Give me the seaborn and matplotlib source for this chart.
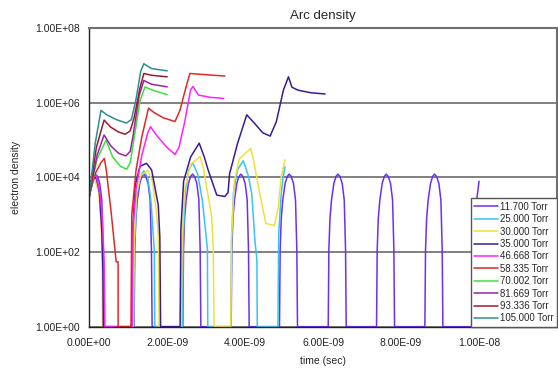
import numpy as np
import pandas as pd
import matplotlib
matplotlib.use("Agg")
import matplotlib.pyplot as plt
import matplotlib.ticker as mticker
import seaborn as sns

# =========================
# DATA  (time in ns, density given as log10 exponent)
# =========================
PRESSURES = ["11.700 Torr", "25.000 Torr", "30.000 Torr", "35.000 Torr", "46.668 Torr",
             "58.335 Torr", "70.002 Torr", "81.669 Torr", "93.336 Torr", "105.000 Torr"]
COLORS = ["#6b2ff5", "#38c4f4", "#f2e03a", "#3a1a98", "#ff20ff",
          "#e02828", "#3ee03e", "#9a22a8", "#a0182c", "#2a9090"]

# 11.7 Torr repeats the same arch, one per pulse
DOME_DT = [0, 0.017, 0.045, 0.085, 0.145, 0.20, 0.248, 0.30, 0.359, 0.411, 0.445, 0.462]
DOME_EXP = [0, 2.06, 2.9, 3.4, 3.84, 4.03, 4.09, 4.03, 3.84, 3.4, 2.06, 0]
STARTS_11700 = [-0.09, 1.15, 2.40, 3.64, 4.88, 6.13, 7.37, 8.61]
TAIL_T_11700 = [9.86, 9.88, 9.94, 10.0]
TAIL_E_11700 = [0, 2.1, 3.4, 3.9]

T_25000 = [0, 0.06, 0.16, 0.25, 0.31, 0.34, 0.35,
           1.14, 1.16, 1.22, 1.30, 1.40, 1.50, 1.58, 1.64, 1.67, 1.68,
           2.39, 2.41, 2.46, 2.55, 2.65, 2.78, 2.90, 2.97, 3.03, 3.04,
           3.63, 3.65, 3.70, 3.80, 3.95, 4.08, 4.17, 4.25, 4.30, 4.31,
           4.84, 4.86, 4.92, 4.97, 5.02]
E_25000 = [3.6, 3.95, 4.0, 3.7, 3.0, 2.0, 0,
           0, 2.2, 3.5, 4.0, 4.18, 4.0, 3.4, 2.5, 2.0, 0,
           0, 2.3, 3.6, 4.2, 4.4, 4.1, 3.4, 2.7, 2.1, 0,
           0, 2.3, 3.6, 4.2, 4.45, 4.05, 3.55, 2.3, 1.8, 0,
           0, 2.5, 3.5, 4.0, 4.28]

T_30000 = [0, 0.07, 0.15, 0.24, 0.30, 0.33, 0.34,
           1.13, 1.15, 1.21, 1.32, 1.50, 1.62, 1.72, 1.77, 1.79,
           2.36, 2.38, 2.45, 2.60, 2.84, 2.92, 3.01, 3.14, 3.18, 3.20,
           3.63, 3.65, 3.72, 3.85, 4.14, 4.20, 4.34, 4.53, 4.75, 4.85, 4.92, 5.02]
E_30000 = [3.55, 3.9, 3.95, 3.6, 2.8, 1.8, 0,
           0, 2.3, 3.6, 4.05, 4.2, 3.9, 3.1, 2.46, 0,
           0, 2.3, 3.7, 4.35, 4.56, 4.3, 3.75, 2.95, 2.14, 0,
           0, 2.4, 3.9, 4.5, 4.78, 4.55, 3.75, 2.77, 2.71, 3.2, 4.0, 4.47]

T_35000 = [0, 0.08, 0.18, 0.26, 0.32, 0.35, 0.36,
           1.09, 1.11, 1.18, 1.30, 1.47, 1.60, 1.77, 1.81, 1.83,
           2.33, 2.35, 2.42, 2.60, 2.82, 2.95, 3.05, 3.27, 3.48, 3.56, 3.60,
           3.80, 4.04, 4.20, 4.45, 4.64, 4.80, 4.98, 5.11, 5.20, 5.36, 5.70, 6.05]
E_35000 = [3.6, 3.95, 4.0, 3.6, 2.6, 1.5, 0,
           0, 2.5, 3.8, 4.3, 4.38, 4.2, 3.26, 2.4, 0,
           0, 2.6, 3.9, 4.55, 4.92, 4.55, 4.2, 3.53, 3.49, 3.6, 4.1,
           4.9, 5.68, 5.5, 5.2, 5.11, 5.5, 6.34, 6.7, 6.42, 6.34, 6.27, 6.24]

T_46668 = [0, 0.10, 0.18, 0.27, 0.33, 0.38, 0.40,
           1.10, 1.12, 1.20, 1.35, 1.50, 1.57, 1.75, 2.00, 2.20, 2.30,
           2.45, 2.60, 2.66, 2.80, 3.10, 3.45]
E_46668 = [3.7, 4.1, 4.05, 3.6, 3.0, 1.8, 0,
           0, 2.6, 3.7, 4.6, 5.2, 5.36, 5.1, 4.8, 4.62, 4.8,
           5.5, 6.35, 6.44, 6.21, 6.15, 6.12]

T_58335 = [0, 0.15, 0.30, 0.385, 0.43, 0.56, 0.69, 0.74, 0.74,
           1.07, 1.09, 1.20, 1.35, 1.52, 1.65, 1.90, 2.20, 2.33, 2.45, 2.58, 2.80, 3.48]
E_58335 = [3.5, 4.1, 4.4, 4.51, 4.25, 3.08, 1.74, 1.74, 0,
           0, 3.0, 4.2, 5.1, 5.86, 5.75, 5.6, 5.5, 5.81, 6.3, 6.79, 6.77, 6.72]

T_70002 = [0, 0.20, 0.43, 0.60, 0.80, 0.96, 1.05, 1.13, 1.30, 1.43, 1.60, 2.00]
E_70002 = [3.5, 4.5, 5.0, 4.55, 4.3, 4.22, 4.4, 4.92, 6.05, 6.43, 6.35, 6.22]

T_81669 = [0, 0.20, 0.38, 0.55, 0.75, 0.94, 1.05, 1.12, 1.28, 1.40, 1.60, 2.00]
E_81669 = [3.5, 4.6, 5.14, 4.85, 4.65, 4.58, 4.7, 5.1, 6.2, 6.6, 6.5, 6.43]

T_93336 = [0, 0.18, 0.38, 0.55, 0.75, 0.92, 1.05, 1.15, 1.30, 1.40, 1.60, 2.00]
E_93336 = [3.5, 4.8, 5.54, 5.35, 5.22, 5.16, 5.25, 5.6, 6.4, 6.79, 6.74, 6.70]

T_105000 = [0, 0.15, 0.30, 0.45, 0.70, 0.95, 1.08, 1.20, 1.32, 1.40, 1.60, 2.00]
E_105000 = [3.5, 4.9, 5.8, 5.68, 5.55, 5.46, 5.55, 6.1, 6.85, 7.05, 6.92, 6.86]

# =========================
# BUILD LONG TABLE
# =========================
t_11700 = [s + d for s in STARTS_11700 for d in DOME_DT] + TAIL_T_11700
e_11700 = DOME_EXP * len(STARTS_11700) + TAIL_E_11700

series = [(t_11700, e_11700), (T_25000, E_25000), (T_30000, E_30000),
          (T_35000, E_35000), (T_46668, E_46668), (T_58335, E_58335),
          (T_70002, E_70002), (T_81669, E_81669), (T_93336, E_93336),
          (T_105000, E_105000)]

frames = []
for name, (t, e) in zip(PRESSURES, series):
    frames.append(pd.DataFrame({"time": np.array(t) * 1e-9,
                                "density": 10.0 ** np.array(e, dtype=float),
                                "pressure": name}))
df = pd.concat(frames, ignore_index=True)

# =========================
# PLOT
# =========================
sns.set_style("white")
plt.rcParams["font.family"] = ["Liberation Sans", "DejaVu Sans"]

fig = plt.figure(figsize=(5.58, 3.72), dpi=100)
ax = fig.add_axes([0.1600, 0.1218, 0.8382, 0.8021])

sns.lineplot(data=df, x="time", y="density", hue="pressure", hue_order=PRESSURES,
             palette=dict(zip(PRESSURES, COLORS)), sort=False, estimator=None,
             linewidth=1.1, ax=ax)

ax.set_yscale("log")
ax.set_xlim(0, 1.2e-8)
ax.set_ylim(1, 1e8)

ax.yaxis.set_major_locator(mticker.FixedLocator([1e0, 1e2, 1e4, 1e6, 1e8]))
ax.yaxis.set_minor_locator(mticker.LogLocator(base=10, subs=np.arange(1, 10), numticks=20))
ax.yaxis.set_minor_formatter(mticker.NullFormatter())
ax.yaxis.set_major_formatter(mticker.FuncFormatter(lambda v, p: f"{v:.2E}"))
ax.xaxis.set_major_locator(mticker.FixedLocator([0, 2e-9, 4e-9, 6e-9, 8e-9, 1e-8]))
ax.xaxis.set_major_formatter(mticker.FuncFormatter(lambda v, p: f"{v:.2E}"))

ax.tick_params(axis="both", which="both", direction="in", labelsize=7.5, colors="#222222")
ax.tick_params(axis="y", which="major", length=4, pad=6.5)
ax.tick_params(axis="y", which="minor", length=2.5)
ax.tick_params(axis="x", which="major", length=4, pad=8)

ax.grid(axis="y", which="major", color="#808080", linewidth=1.4)
ax.grid(axis="x", visible=False)

for side in ["left", "bottom"]:
    ax.spines[side].set_color("#222222")
    ax.spines[side].set_linewidth(1.0)
for side in ["top", "right"]:
    ax.spines[side].set_color("#707070")
    ax.spines[side].set_linewidth(1.5)

ax.set_title("Arc density", fontsize=9.5, pad=7)
ax.set_xlabel("time (sec)", fontsize=7.5)
ax.set_ylabel("electron density", fontsize=7.5)
ax.xaxis.set_label_coords(0.5, -0.098)
ax.yaxis.set_label_coords(-0.145, 0.5)

handles, labels = ax.get_legend_handles_labels()
leg = ax.legend(handles, labels, loc="lower right", bbox_to_anchor=(1, 0), borderaxespad=0,
                fontsize=6.9, frameon=True, fancybox=False, framealpha=1,
                edgecolor="#555555", handlelength=2.5, handletextpad=0.15,
                borderpad=0.35, labelspacing=0.25)
leg.get_frame().set_linewidth(1.0)

fig.savefig("out.png", dpi=100)
